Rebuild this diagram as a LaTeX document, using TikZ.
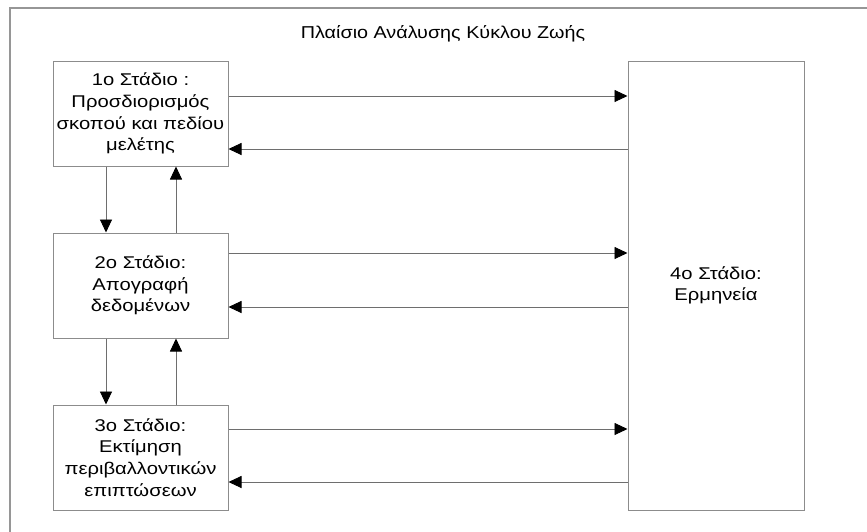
\documentclass[tikz,border=0pt]{standalone}
\usepackage{fontspec}
\setmainfont{Liberation Sans}
\newfontfamily\boxfnt[FakeStretch=1.19]{Liberation Sans}
\newfontfamily\titlefnt[FakeStretch=1.15]{Liberation Sans}
\usetikzlibrary{arrows.meta,calc}
\definecolor{boxgray}{RGB}{140,140,140}
\definecolor{linegray}{RGB}{110,110,110}
\definecolor{framegray}{RGB}{150,150,150}
\begin{document}
\begin{tikzpicture}[x=1pt,y=-1pt,
  stagebox/.style={draw=boxgray, line width=1pt, fill=white, align=center,
    inner sep=0pt, font=\boxfnt\fontsize{17}{21.7}\selectfont},
  arr/.style={draw=linegray, line width=0.9pt,
    -{Triangle[length=13pt,width=12pt,color=black]}},
  titlestyle/.style={font=\titlefnt\fontsize{17.2}{21}\selectfont, anchor=base, inner sep=0pt}]
\useasboundingbox (0,0) rectangle (867,531);
\fill[white] (0,0) rectangle (867,531);
\draw[framegray, line width=1.3pt] (10,540) -- (10,8) -- (880,8);
\node[titlestyle] (title) at (443,38) {Πλαίσιο Ανάλυσης Κύκλου Ζωής};

\node[stagebox, minimum width=175pt, minimum height=105pt] (b1) at (140.5,113.5)
  {1ο Στάδιο :\\Προσδιορισμός\\σκοπού και πεδίου\\μελέτης};
\node[stagebox, minimum width=175pt, minimum height=105pt] (b2) at (140.5,285.5)
  {2ο Στάδιο:\\Απογραφή\\δεδομένων};
\node[stagebox, minimum width=175pt, minimum height=105pt] (b3) at (140.5,457.5)
  {3ο Στάδιο:\\Εκτίμηση\\περιβαλλοντικών\\επιπτώσεων};
\node[stagebox, minimum width=176pt, minimum height=449pt] (b4) at (716,285.5)
  {4ο Στάδιο:\\Ερμηνεία};

% horizontal connectors
\draw[arr] ([yshift=17.5pt]b1.east) -- ([yshift=17.5pt]b1.east -| b4.west);
\draw[arr] ([yshift=-35.5pt]b1.east -| b4.west) -- ([yshift=-35.5pt]b1.east);
\draw[arr] ([yshift=32.5pt]b2.east) -- ([yshift=32.5pt]b2.east -| b4.west);
\draw[arr] ([yshift=-21.5pt]b2.east -| b4.west) -- ([yshift=-21.5pt]b2.east);
\draw[arr] ([yshift=28.5pt]b3.east) -- ([yshift=28.5pt]b3.east -| b4.west);
\draw[arr] ([yshift=-24.5pt]b3.east -| b4.west) -- ([yshift=-24.5pt]b3.east);

% vertical connectors
\draw[arr] ([xshift=-34.5pt]b1.south) -- ([xshift=-34.5pt]b1.south |- b2.north);
\draw[arr] ([xshift=35.5pt]b2.north) -- ([xshift=35.5pt]b2.north |- b1.south);
\draw[arr] ([xshift=-34.5pt]b2.south) -- ([xshift=-34.5pt]b2.south |- b3.north);
\draw[arr] ([xshift=35.5pt]b3.north) -- ([xshift=35.5pt]b3.north |- b2.south);
\end{tikzpicture}
\end{document}
